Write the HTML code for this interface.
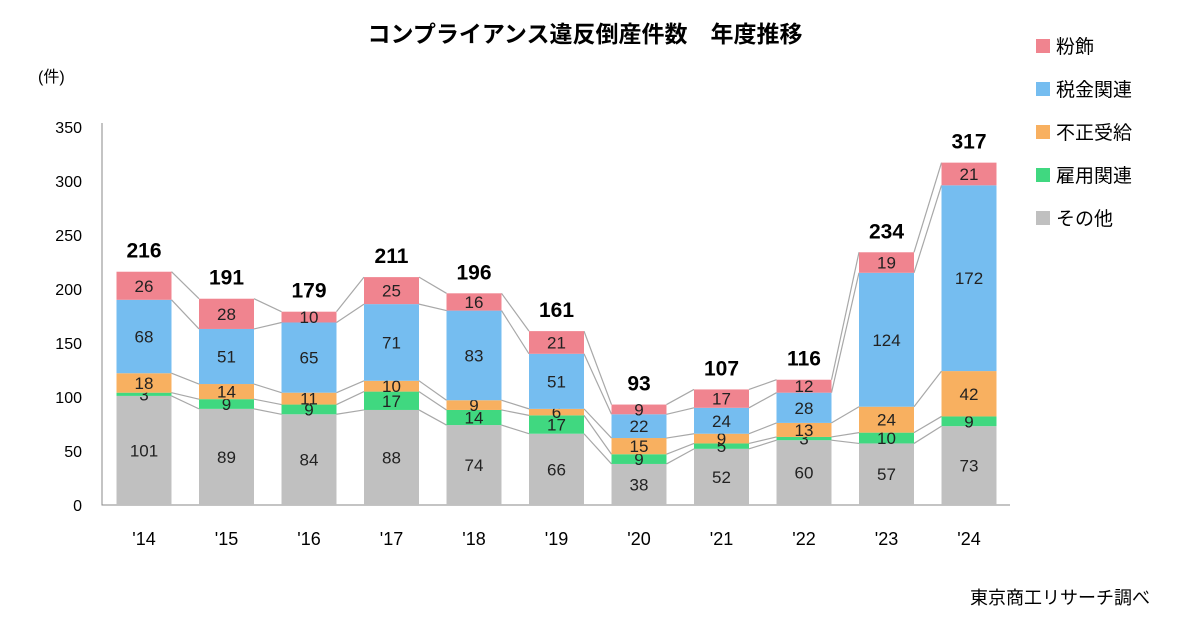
<!DOCTYPE html>
<html><head><meta charset="utf-8"><style>
body{margin:0;background:#fff;}
svg{display:block;font-family:"Liberation Sans","Noto Sans CJK JP",sans-serif;}
</style></head><body>
<svg id="c" width="1200" height="630">
<text x="585" y="42" text-anchor="middle" font-size="23" font-weight="bold" fill="#000">コンプライアンス違反倒産件数　年度推移</text>
<text x="38" y="82" font-size="16" fill="#000">(件)</text>
<text x="1150" y="604" text-anchor="end" font-size="18" fill="#000">東京商工リサーチ調べ</text>
<g id="axes"></g><g id="links"></g><g id="bars"></g><g id="legend"></g>
</svg>
<script>
const categories=["'14","'15","'16","'17","'18","'19","'20","'21","'22","'23","'24"];
const other=[101,89,84,88,74,66,38,52,60,57,73];
const employment=[3,9,9,17,14,17,9,5,3,10,9];
const benefit=[18,14,11,10,9,6,15,9,13,24,42];
const tax=[68,51,65,71,83,51,22,24,28,124,172];
const dressing=[26,28,10,25,16,21,9,17,12,19,21];
const yTicks=[0,50,100,150,200,250,300,350];
const seriesNames=["その他","雇用関連","不正受給","税金関連","粉飾"];
const series=[other,employment,benefit,tax,dressing];
const colors=["#c0c0c0","#40d880","#f8b060","#75bdf0","#f0848f"];
const NS="http://www.w3.org/2000/svg";
const y=v=>505-v*1.08, xc=i=>144+i*82.5, bw=55;
function mk(t,a,p,txt){const e=document.createElementNS(NS,t);for(const k in a)e.setAttribute(k,a[k]);if(txt!=null)e.textContent=txt;p.appendChild(e);return e;}
const axes=document.getElementById('axes'),links=document.getElementById('links'),bars=document.getElementById('bars'),legend=document.getElementById('legend');
yTicks.forEach(t=>{const e=mk('text',{x:82,y:y(t)+6,'text-anchor':'end','font-size':16},axes,t);

});
const ax=mk('path',{d:`M102 ${y(350)-4} V505 H1010`,stroke:'#888',fill:'none','stroke-width':1},axes);


categories.forEach((c,i)=>{const e=mk('text',{x:xc(i),y:545,'text-anchor':'middle','font-size':18},axes,c);

});
// connector lines
for(let i=0;i<categories.length-1;i++){let a=0,b=0;for(let s=0;s<series.length;s++){a+=series[s][i];b+=series[s][i+1];
const l=mk('line',{x1:xc(i)+bw/2,y1:y(a),x2:xc(i+1)-bw/2,y2:y(b),stroke:'#a8a8a8','stroke-width':1.2},links);

}}
categories.forEach((c,i)=>{let cum=0;series.forEach((s,k)=>{const v=s[i];
const r=mk('rect',{x:xc(i)-bw/2,y:y(cum+v),width:bw,height:v*1.08,fill:colors[k]},bars);


const t=mk('text',{x:xc(i),y:y(cum+v/2)+6,'text-anchor':'middle','font-size':17,fill:'#222'},bars,v);


cum+=v;});
const tt=mk('text',{x:xc(i),y:y(cum)-14,'text-anchor':'middle','font-size':21,'font-weight':'bold'},bars,cum);

});
[4,3,2,1,0].forEach((k,j)=>{const yy=46+j*43;
const r=mk('rect',{x:1036,y:yy-7,width:14,height:14,fill:colors[k]},legend);


const t=mk('text',{x:1056,y:yy+7,'font-size':19},legend,seriesNames[k]);

});
</script>
</body></html>
